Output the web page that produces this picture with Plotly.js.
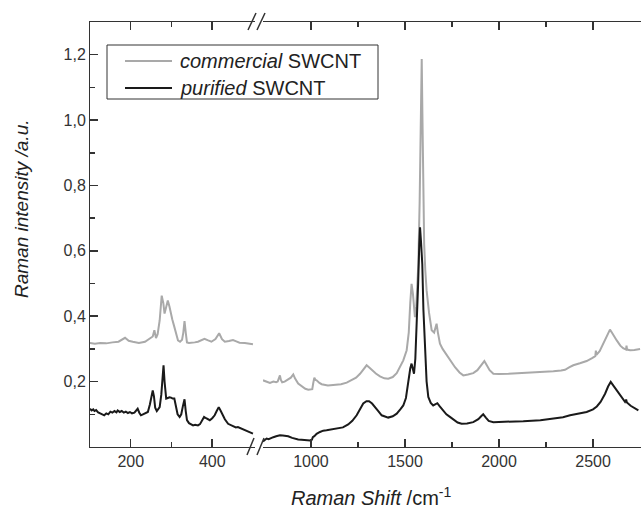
<!DOCTYPE html>
<html>
<head>
<meta charset="utf-8">
<script src="https://cdn.plot.ly/plotly-3.0.1.min.js"></script>
<style>html,body{margin:0;padding:0;background:#fff;}#chart{width:641px;height:508px;}</style>
</head>
<body>
<div id="chart"></div>
<script>
// ---- data ----
// low-frequency window (RBM region)
const commercialLowX = [100,112,125,140,155,170,186,195,205,220,235,242,250,254,258,262,266,271,276,280,283,287,291,295,298,302,306,311,316,321,326,329,332,335,338,343,348,357,365,373,381,390,398,408,417,424,431,441,451,459,467,480,490,500];
const commercialLowY = [0.318,0.316,0.318,0.317,0.320,0.322,0.334,0.325,0.322,0.318,0.322,0.328,0.334,0.338,0.357,0.333,0.345,0.387,0.463,0.440,0.408,0.430,0.448,0.430,0.408,0.390,0.372,0.345,0.326,0.322,0.328,0.350,0.385,0.350,0.320,0.318,0.318,0.320,0.322,0.327,0.331,0.326,0.322,0.330,0.348,0.330,0.322,0.324,0.327,0.323,0.319,0.318,0.316,0.314];

const purifiedLowX = [100,104,108,111,115,120,125,130,135,140,145,150,155,160,165,168,173,178,183,188,193,198,203,209,213,217,221,225,230,236,242,247,251,254,257,260,264,268,271,275,278,280.5,283,285,287,291,295,299,303,307,311,315,320,324,328,332,335,338,343,348,353,358,365,370,375,380,385,390,394,400,406,411,416,421,426,431,439,446,452,458,463,470,477,484,490,496,500];
const purifiedLowY = [0.117,0.112,0.115,0.110,0.113,0.106,0.103,0.100,0.097,0.103,0.100,0.108,0.105,0.110,0.106,0.112,0.107,0.110,0.105,0.108,0.104,0.107,0.103,0.105,0.110,0.117,0.105,0.097,0.100,0.103,0.107,0.130,0.160,0.173,0.155,0.120,0.110,0.115,0.122,0.160,0.220,0.250,0.200,0.160,0.148,0.150,0.152,0.151,0.148,0.148,0.125,0.100,0.092,0.100,0.125,0.146,0.110,0.082,0.073,0.069,0.066,0.068,0.066,0.070,0.080,0.092,0.088,0.085,0.082,0.088,0.097,0.110,0.122,0.110,0.097,0.085,0.071,0.066,0.064,0.060,0.061,0.057,0.054,0.051,0.047,0.043,0.041];

// high-frequency window (D, G, G' bands)
const commercialHighX = [745,760,782,800,815,823,830,835,840,847,860,870,879,893,906,915,932,950,970,986,1000,1007,1012,1018,1024,1030,1045,1057,1090,1128,1160,1190,1216,1240,1261,1280,1296,1310,1322,1345,1367,1390,1411,1435,1456,1475,1491,1509,1520,1528,1535,1542,1548,1553,1560,1566,1571,1578,1584,1589,1593,1597,1602,1608,1615,1628,1642,1655,1663,1668,1675,1686,1700,1722,1745,1766,1790,1810,1835,1863,1885,1905,1922,1935,1950,1970,2000,2050,2129,2200,2289,2330,2351,2375,2395,2430,2466,2495,2512,2515,2518,2535,2555,2570,2582,2590,2600,2615,2626,2645,2660,2675,2678,2681,2697,2720,2750];
const commercialHighY = [0.204,0.200,0.196,0.200,0.198,0.200,0.210,0.219,0.205,0.198,0.200,0.204,0.206,0.212,0.222,0.210,0.194,0.185,0.178,0.175,0.175,0.177,0.195,0.212,0.205,0.204,0.196,0.192,0.188,0.189,0.192,0.197,0.204,0.212,0.224,0.238,0.250,0.243,0.236,0.225,0.216,0.210,0.209,0.214,0.226,0.245,0.265,0.296,0.350,0.440,0.499,0.470,0.410,0.397,0.430,0.500,0.560,0.750,1.000,1.187,1.000,0.764,0.620,0.540,0.479,0.410,0.357,0.350,0.365,0.377,0.350,0.316,0.300,0.280,0.260,0.244,0.228,0.219,0.222,0.226,0.235,0.250,0.263,0.250,0.235,0.224,0.223,0.224,0.226,0.228,0.232,0.234,0.236,0.244,0.250,0.256,0.263,0.272,0.278,0.295,0.282,0.293,0.316,0.335,0.352,0.359,0.350,0.335,0.326,0.310,0.302,0.298,0.310,0.298,0.296,0.297,0.300];

const purifiedHighX = [745,755,764,775,791,800,815,835,850,865,879,900,915,932,950,970,995,1005,1010,1018,1030,1048,1065,1083,1110,1145,1170,1198,1220,1243,1262,1278,1295,1309,1325,1340,1358,1376,1395,1411,1435,1456,1475,1491,1505,1518,1528,1535,1542,1548,1555,1562,1570,1576,1580,1585,1592,1598,1606,1615,1624,1637,1650,1660,1672,1685,1704,1720,1739,1760,1780,1801,1830,1863,1890,1905,1916,1930,1945,1970,2050,2129,2220,2307,2340,2378,2420,2466,2500,2520,2540,2564,2580,2594,2610,2626,2645,2670,2676,2680,2700,2720,2741];
const purifiedHighY = [0.017,0.022,0.026,0.024,0.029,0.030,0.033,0.036,0.035,0.034,0.033,0.028,0.025,0.023,0.022,0.021,0.020,0.022,0.030,0.033,0.040,0.046,0.050,0.051,0.054,0.056,0.060,0.069,0.080,0.097,0.118,0.133,0.140,0.140,0.133,0.124,0.110,0.097,0.092,0.090,0.094,0.102,0.115,0.127,0.150,0.204,0.240,0.255,0.240,0.224,0.270,0.357,0.500,0.620,0.672,0.630,0.560,0.420,0.306,0.200,0.153,0.135,0.127,0.130,0.134,0.124,0.112,0.100,0.092,0.082,0.075,0.071,0.072,0.076,0.085,0.094,0.100,0.090,0.080,0.076,0.077,0.079,0.082,0.087,0.091,0.097,0.101,0.107,0.115,0.124,0.138,0.163,0.185,0.199,0.186,0.173,0.155,0.138,0.145,0.136,0.126,0.118,0.112];

const seriesNames = ['<i>commercial</i> SWCNT', '<i>purified</i> SWCNT'];
const yTickVals = [0.2, 0.4, 0.6, 0.8, 1.0, 1.2];
const xLowTicks = [200, 400], xLowMinor = [300];
const xHighTicks = [1000, 1500, 2000, 2500], xHighMinor = [1250, 1750, 2250, 2750];

// ---- styling ----
const GRAY = '#a9a9a9', BLACK = '#1a1a1a', AX = '#333333';
const FONT = 'Liberation Sans, Arial, sans-serif';
const NOGRID = 'rgba(0,0,0,0)';

const traces = [
  {x: commercialLowX, y: commercialLowY, xaxis: 'x', yaxis: 'y', mode: 'lines', name: seriesNames[0], showlegend: false, line: {color: GRAY, width: 2}},
  {x: purifiedLowX, y: purifiedLowY, xaxis: 'x', yaxis: 'y', mode: 'lines', name: seriesNames[1], showlegend: false, line: {color: BLACK, width: 2}},
  {x: commercialHighX, y: commercialHighY, xaxis: 'x2', yaxis: 'y', mode: 'lines', name: seriesNames[0], showlegend: false, line: {color: GRAY, width: 2}},
  {x: purifiedHighX, y: purifiedHighY, xaxis: 'x2', yaxis: 'y', mode: 'lines', name: seriesNames[1], showlegend: false, line: {color: BLACK, width: 2}}
];

const W = 641, H = 508, ML = 90, MR = 0, MT = 22, MB = 61;
const PW = W - ML - MR, PH = H - MT - MB;
const px2x = p => (p - ML) / PW;
const px2y = p => (H - MB - p) / PH;

const axCommon = {
  showline: true, linecolor: AX, mirror: 'ticks',
  ticks: 'inside', ticklen: 8, tickwidth: 1.5, tickcolor: AX,
  gridcolor: NOGRID,
  tickfont: {family: FONT, size: 16, color: AX}
};
const minorCommon = {ticks: 'inside', ticklen: 5};

function slash(x0, y0, x1, y1) {
  return {type: 'line', xref: 'paper', yref: 'paper', x0: px2x(x0), y0: px2y(y0), x1: px2x(x1), y1: px2y(y1), line: {color: AX, width: 1.5}};
}

const layout = {
  width: W, height: H,
  margin: {l: ML, r: MR, t: MT, b: MB},
  separators: ', ',
  font: {family: FONT, color: AX},
  showlegend: false,
  xaxis: Object.assign({}, axCommon, {
    domain: [0, px2x(255)], range: [100, 505], anchor: 'y',
    tickmode: 'array', tickvals: xLowTicks,
    minor: Object.assign({tickmode: 'array', tickvals: xLowMinor}, minorCommon)
  }),
  xaxis2: Object.assign({}, axCommon, {
    domain: [px2x(263), 1], range: [745, 2755], anchor: 'y',
    tickmode: 'array', tickvals: xHighTicks,
    minor: Object.assign({tickmode: 'array', tickvals: xHighMinor}, minorCommon)
  }),
  yaxis: Object.assign({}, axCommon, {
    domain: [0, 1], range: [0, 1.3], anchor: 'x', mirror: false,
    zerolinecolor: AX, zerolinewidth: 1,
    tickmode: 'array', tickvals: yTickVals, tickformat: '.1f', ticksuffix: ' ',
    minor: Object.assign({tickmode: 'linear', tick0: 0, dtick: 0.1}, minorCommon)
  }),
  shapes: [
    // axis break marks
    slash(248, 30, 256, 13), slash(257, 30, 265, 13),
    slash(247, 455, 254, 438), slash(257, 455, 264, 438),
    // legend frame and samples
    {type: 'rect', xref: 'paper', yref: 'paper', x0: px2x(107), x1: px2x(378), y0: px2y(45), y1: px2y(99), line: {color: AX, width: 1}, fillcolor: '#ffffff'},
    {type: 'line', xref: 'paper', yref: 'paper', x0: px2x(125), x1: px2x(172), y0: px2y(61), y1: px2y(61), line: {color: GRAY, width: 2}},
    {type: 'line', xref: 'paper', yref: 'paper', x0: px2x(125), x1: px2x(172), y0: px2y(88), y1: px2y(88), line: {color: BLACK, width: 2}}
  ],
  annotations: [
    {xref: 'paper', yref: 'paper', x: px2x(178), y: px2y(61), xanchor: 'left', yanchor: 'middle', showarrow: false,
     text: seriesNames[0], font: {family: FONT, size: 20, color: '#222'}},
    {xref: 'paper', yref: 'paper', x: px2x(178), y: px2y(88), xanchor: 'left', yanchor: 'middle', showarrow: false,
     text: seriesNames[1], font: {family: FONT, size: 20, color: '#222'}},
    {xref: 'paper', yref: 'paper', x: px2x(371), y: px2y(496), xanchor: 'center', yanchor: 'middle', showarrow: false,
     text: '<i>Raman Shift</i> /cm<sup>-1</sup>', font: {family: FONT, size: 20, color: '#222'}},
    {xref: 'paper', yref: 'paper', x: px2x(22), y: px2y(209), xanchor: 'center', yanchor: 'middle', showarrow: false, textangle: -90,
     text: '<i>Raman intensity /a.u.</i>', font: {family: FONT, size: 19, color: '#222'}}
  ]
};

Plotly.newPlot('chart', traces, layout, {staticPlot: true, displayModeBar: false});
</script>
</body>
</html>
